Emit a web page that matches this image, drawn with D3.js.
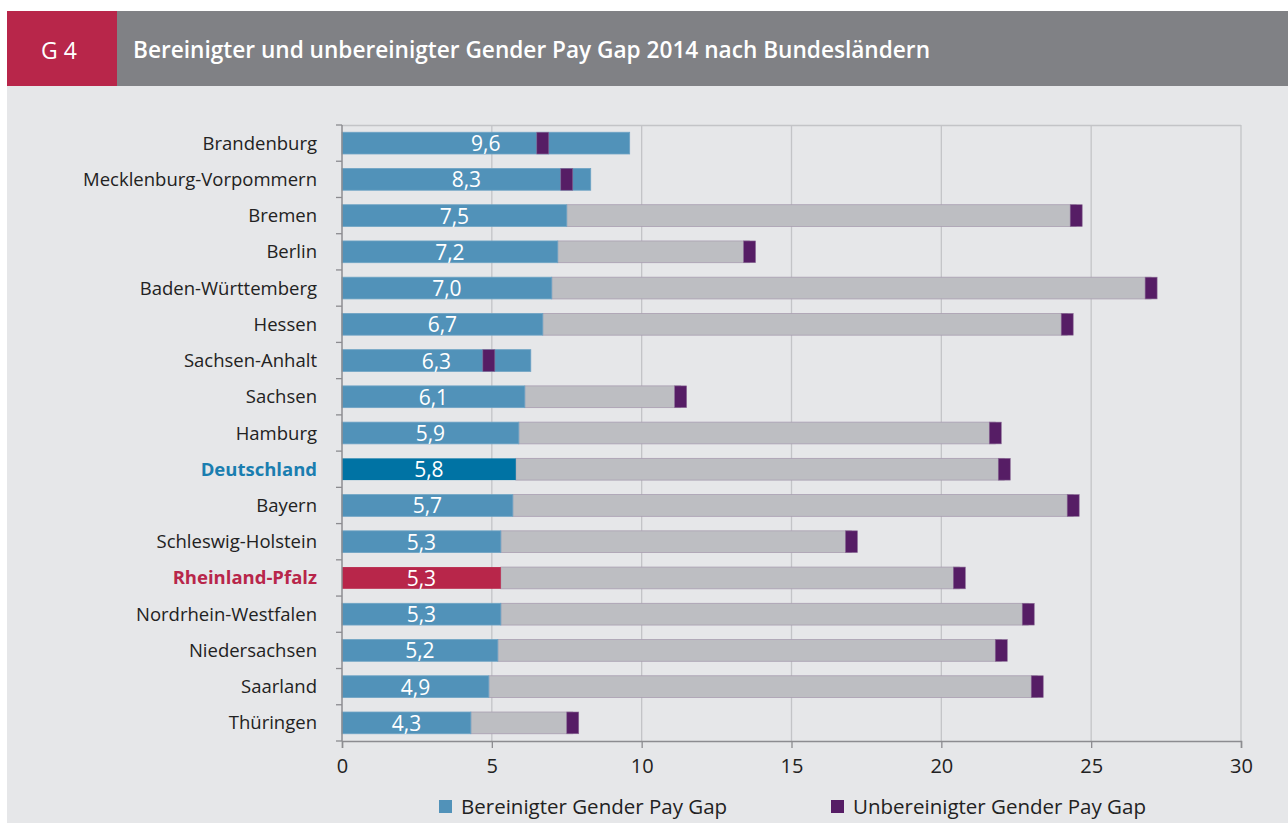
<!DOCTYPE html>
<html><head><meta charset="utf-8">
<script src="https://cdn.jsdelivr.net/npm/d3@7"></script>
<style>
html,body{margin:0;padding:0;background:#fff;}
svg{display:block;font-family:"Open Sans","Noto Sans",sans-serif;}
</style></head>
<body>
<svg id="chart" width="1288" height="823"></svg>
<script>
const categories = ["Brandenburg","Mecklenburg-Vorpommern","Bremen","Berlin","Baden-Württemberg","Hessen","Sachsen-Anhalt","Sachsen","Hamburg","Deutschland","Bayern","Schleswig-Holstein","Rheinland-Pfalz","Nordrhein-Westfalen","Niedersachsen","Saarland","Thüringen"];
const bereinigt = [9.6,8.3,7.5,7.2,7.0,6.7,6.3,6.1,5.9,5.8,5.7,5.3,5.3,5.3,5.2,4.9,4.3];
const unbereinigt = [6.7,7.5,24.5,13.6,27.0,24.2,4.9,11.3,21.8,22.1,24.4,17.0,20.6,22.9,22.0,23.2,7.7];
const xTicks = [0,5,10,15,20,25,30];
const legendLabels = ["Bereinigter Gender Pay Gap","Unbereinigter Gender Pay Gap"];
const headerNum = "G 4";
const title = "Bereinigter und unbereinigter Gender Pay Gap 2014 nach Bundesländern";

(function(){
const svg = d3.select("#chart");
const W = 1288, H = 823;
const colors = {bg:"#e6e7e9", header:"#808185", red:"#b8264a", blue:"#5192b9", blueDE:"#0073a4", grey:"#bdbec2", purple:"#561d65", text:"#222"};
const highlight = {"Deutschland":{bar:colors.blueDE, label:"#1a7eb0"}, "Rheinland-Pfalz":{bar:colors.red, label:colors.red}};

svg.append("rect").attr("x",7).attr("y",11).attr("width",W-7).attr("height",H-11).attr("fill",colors.bg);
svg.append("rect").attr("x",7).attr("y",11).attr("width",110).attr("height",75).attr("fill",colors.red);
svg.append("rect").attr("x",117).attr("y",11).attr("width",W-117).attr("height",75).attr("fill",colors.header);
svg.append("text").attr("x",41).attr("y",59).attr("fill","#fff").attr("font-size",23).text(headerNum);
svg.append("text").attr("x",133).attr("y",58).attr("fill","#fff").attr("font-size",22.5).attr("font-weight",600).text(title)
  .attr("textLength",797).attr("lengthAdjust","spacingAndGlyphs");

const pLeft = 342, pRight = 1241, pTop = 125, pBottom = 741;
const x = d3.scaleLinear().domain([0,30]).range([pLeft,pRight]);
const y = d3.scaleBand().domain(categories).range([pTop,pBottom]).paddingInner(0.4).paddingOuter(0.2);

const g = svg.append("g");
g.selectAll("line.grid").data(xTicks.slice(1)).join("line")
  .attr("x1",d=>x(d)).attr("x2",d=>x(d)).attr("y1",pTop).attr("y2",pBottom)
  .attr("stroke","#c3c4c7").attr("stroke-width",1.3);
g.append("line").attr("x1",pLeft).attr("x2",pRight).attr("y1",pTop+0.5).attr("y2",pTop+0.5).attr("stroke","#c3c4c7").attr("stroke-width",1.3);

const data = categories.map((c,i)=>({c, b:bereinigt[i], u:unbereinigt[i]}));
g.selectAll("rect.grey").data(data.filter(d=>d.u>d.b)).join("rect")
  .attr("x",d=>x(d.b)).attr("width",d=>x(d.u)-x(d.b))
  .attr("y",d=>y(d.c)).attr("height",y.bandwidth())
  .attr("fill",colors.grey).attr("stroke","#a99eb1").attr("stroke-width",0.8);
g.selectAll("rect.blue").data(data).join("rect")
  .attr("x",x(0)).attr("width",d=>x(d.b)-x(0))
  .attr("y",d=>y(d.c)).attr("height",y.bandwidth())
  .attr("fill",d=>highlight[d.c]?highlight[d.c].bar:colors.blue)
  .attr("stroke",d=>highlight[d.c]?"none":"#6ea3c4").attr("stroke-width",0.8);
const mw = x(0.4)-x(0);
g.selectAll("rect.mark").data(data).join("rect")
  .attr("x",d=>x(d.u)-mw/2).attr("width",mw)
  .attr("y",d=>y(d.c)).attr("height",y.bandwidth())
  .attr("fill",colors.purple).attr("stroke","#8a6a95").attr("stroke-width",0.6);
g.selectAll("text.val").data(data).join("text")
  .attr("x",d=>(x(0)+x(d.b))/2).attr("y",d=>y(d.c)+y.bandwidth()/2+8)
  .attr("text-anchor","middle").attr("fill","#fff").attr("font-size",21)
  .text(d=>d3.format(".1f")(d.b).replace(".",","));

const yAxisG = svg.append("g");
yAxisG.append("line").attr("x1",pLeft).attr("x2",pLeft).attr("y1",pTop).attr("y2",pBottom).attr("stroke","#8c8c90").attr("stroke-width",1.5);
const bounds = d3.range(categories.length+1).map(i=>pTop + i*(pBottom-pTop)/categories.length);
yAxisG.selectAll("line.t").data(bounds).join("line")
  .attr("x1",pLeft-6).attr("x2",pLeft).attr("y1",d=>d).attr("y2",d=>d).attr("stroke","#8c8c90").attr("stroke-width",1.3);
yAxisG.selectAll("text").data(categories).join("text")
  .attr("x",317).attr("y",d=>y(d)+y.bandwidth()/2+6.5)
  .attr("text-anchor","end").attr("font-size",18.5)
  .attr("font-weight",d=>highlight[d]?700:400)
  .attr("fill",d=>highlight[d]?highlight[d].label:colors.text)
  .text(d=>d);

const xAxis = d3.axisBottom(x).tickValues(xTicks).tickSize(7).tickFormat(d3.format("d"));
const xg = svg.append("g").attr("transform",`translate(0,${pBottom})`).call(xAxis);
xg.select(".domain").attr("stroke","#8c8c90").attr("stroke-width",1.5);
xg.selectAll(".tick line").attr("stroke","#8c8c90").attr("stroke-width",1.3);
xg.selectAll(".tick text").attr("font-size",20).attr("fill",colors.text).attr("y",12).attr("dy","1em").attr("font-family","'Open Sans','Noto Sans',sans-serif");

const leg = svg.append("g");
const legItems = [{t:legendLabels[0],c:colors.blue,x:439},{t:legendLabels[1],c:colors.purple,x:831}];
legItems.forEach(d=>{
  leg.append("rect").attr("x",d.x).attr("y",800).attr("width",13).attr("height",13).attr("fill",d.c);
  leg.append("text").attr("x",d.x+22).attr("y",814).attr("font-size",20.5).attr("fill",colors.text).text(d.t);
});
})();
</script>
</body></html>
